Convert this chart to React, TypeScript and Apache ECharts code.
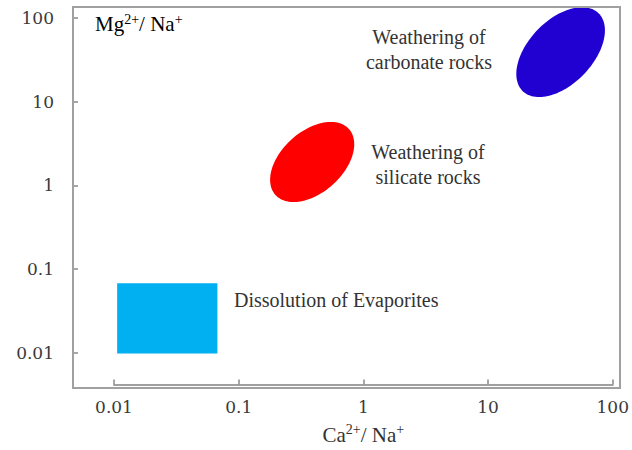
import React, { useEffect, useRef } from "react";
import * as echarts from "echarts";

// Axis ticks (log10 scale)
const xTickValues = [0.01, 0.1, 1, 10, 100];
const yTickValues = [0.01, 0.1, 1, 10, 100];

// Field names
const carbonateName = "Weathering of\ncarbonate rocks";
const silicateName = "Weathering of\nsilicate rocks";
const evaporiteName = "Dissolution of Evaporites";

// Ellipse fields: major-axis end points [x1, y1, x2, y2] (Ca/Na, Mg/Na) and minor/major ratio
const carbonateAxis = [18.97, 13.35, 76.8, 114.3];
const carbonateRatio = 0.59;
const silicateAxis = [0.197, 0.766, 0.766, 4.7];
const silicateRatio = 0.62;

// Evaporite field: [xMin, yMin, xMax, yMax]
const evaporiteBox = [0.0106, 0.0097, 0.0675, 0.0673];

const FONT_SERIF = "Liberation Serif";
const FONT_TICK = "DejaVu Serif";

function fmt(v: number): string {
  return String(+Number(v).toPrecision(3));
}

function ellipseRender(color: string) {
  return (params: any, api: any) => {
    const p1 = api.coord([api.value(0), api.value(1)]);
    const p2 = api.coord([api.value(2), api.value(3)]);
    const ratio = api.value(4);
    const cx = (p1[0] + p2[0]) / 2;
    const cy = (p1[1] + p2[1]) / 2;
    const dx = (p2[0] - p1[0]) / 2;
    const dy = (p2[1] - p1[1]) / 2;
    const a = Math.hypot(dx, dy);
    const ux = dx / a;
    const uy = dy / a;
    const vx = -uy;
    const vy = ux;
    const b = a * ratio;
    const pts: number[][] = [];
    const n = 120;
    for (let i = 0; i < n; i++) {
      const t = (i / n) * Math.PI * 2;
      const c = Math.cos(t) * a;
      const s = Math.sin(t) * b;
      pts.push([cx + c * ux + s * vx, cy + c * uy + s * vy]);
    }
    return {
      type: "polygon",
      shape: { points: pts },
      style: { fill: color },
    };
  };
}

export default function App() {
  const ref = useRef<HTMLDivElement>(null);

  useEffect(() => {
    if (!ref.current) return;
    const chart = echarts.init(ref.current, undefined, { renderer: "svg" });

    const supRich = {
      n: { fontFamily: FONT_SERIF, fontSize: 21, color: "#333", lineHeight: 24 },
      s: { fontFamily: FONT_SERIF, fontSize: 14, color: "#333", lineHeight: 13, verticalAlign: "top" },
    };

    const tickStyle = { show: true, inside: true, length: 5, lineStyle: { color: "#8a8a8a", width: 1.5 } };
    const lineStyle = { show: true, lineStyle: { color: "#a0a0a0", width: 2 } };

    const option: any = {
      animation: false,
      backgroundColor: "#ffffff",
      textStyle: { fontFamily: FONT_SERIF },
      grid: { left: 114, right: 16, top: 18, bottom: 94, containLabel: false },
      xAxis: {
        type: "log",
        logBase: 10,
        min: xTickValues[0],
        max: xTickValues[xTickValues.length - 1],
        offset: 32,
        axisLine: lineStyle,
        axisTick: tickStyle,
        minorTick: { show: false },
        splitLine: { show: false },
        axisLabel: {
          margin: 14,
          fontFamily: FONT_TICK,
          fontSize: 17,
          color: "#3a3a3a",
          formatter: (v: number) => fmt(v),
        },
        name: "{n|Ca}{s|2+}{n|/ Na}{s|+}",
        nameLocation: "middle",
        nameGap: 38,
        nameTextStyle: { rich: supRich },
      },
      yAxis: {
        type: "log",
        logBase: 10,
        min: yTickValues[0],
        max: yTickValues[yTickValues.length - 1],
        offset: 41,
        axisLine: lineStyle,
        axisTick: tickStyle,
        minorTick: { show: false },
        splitLine: { show: false },
        axisLabel: {
          margin: 19,
          fontFamily: FONT_TICK,
          fontSize: 17,
          color: "#3a3a3a",
          formatter: (v: number) => fmt(v),
        },
      },
      graphic: [
        {
          type: "rect",
          z: 100,
          shape: { x: 73, y: 7, width: 547, height: 381 },
          style: { fill: "none", stroke: "#a0a0a0", lineWidth: 2 },
        },
        {
          type: "text",
          z: 100,
          x: 95,
          y: 24,
          style: {
            text: "{n|Mg}{s|2+}{n|/ Na}{s|+}",
            rich: supRich,
            align: "left",
            verticalAlign: "middle",
          },
        },
        {
          type: "text",
          z: 100,
          x: 429,
          y: 49,
          style: {
            text: carbonateName,
            fontSize: 20,
            fontFamily: FONT_SERIF,
            fill: "#333",
            align: "center",
            verticalAlign: "middle",
            lineHeight: 25,
          },
        },
        {
          type: "text",
          z: 100,
          x: 428,
          y: 164,
          style: {
            text: silicateName,
            fontSize: 20,
            fontFamily: FONT_SERIF,
            fill: "#333",
            align: "center",
            verticalAlign: "middle",
            lineHeight: 25,
          },
        },
        {
          type: "text",
          z: 100,
          x: 234,
          y: 300,
          style: {
            text: evaporiteName,
            fontSize: 20,
            fontFamily: FONT_SERIF,
            fill: "#333",
            align: "left",
            verticalAlign: "middle",
          },
        },
      ],
      series: [
        {
          type: "custom",
          name: "Weathering of carbonate rocks",
          clip: false,
          renderItem: ellipseRender("#2100D2"),
          encode: { x: [0, 2], y: [1, 3] },
          data: [[...carbonateAxis, carbonateRatio]],
        },
        {
          type: "custom",
          name: "Weathering of silicate rocks",
          clip: false,
          renderItem: ellipseRender("#FF0000"),
          encode: { x: [0, 2], y: [1, 3] },
          data: [[...silicateAxis, silicateRatio]],
        },
        {
          type: "custom",
          name: "Dissolution of Evaporites",
          clip: false,
          renderItem: (params: any, api: any) => {
            const p1 = api.coord([api.value(0), api.value(1)]);
            const p2 = api.coord([api.value(2), api.value(3)]);
            return {
              type: "rect",
              shape: {
                x: Math.min(p1[0], p2[0]),
                y: Math.min(p1[1], p2[1]),
                width: Math.abs(p2[0] - p1[0]),
                height: Math.abs(p2[1] - p1[1]),
              },
              style: { fill: "#00B0F0" },
            };
          },
          encode: { x: [0, 2], y: [1, 3] },
          data: [evaporiteBox],
        },
      ],
    };

    chart.setOption(option);
    return () => {
      chart.dispose();
    };
  }, []);

  return (
    <div
      ref={ref}
      style={{ position: "fixed", left: 0, top: 0, width: 632, height: 450, background: "#fff" }}
    />
  );
}
